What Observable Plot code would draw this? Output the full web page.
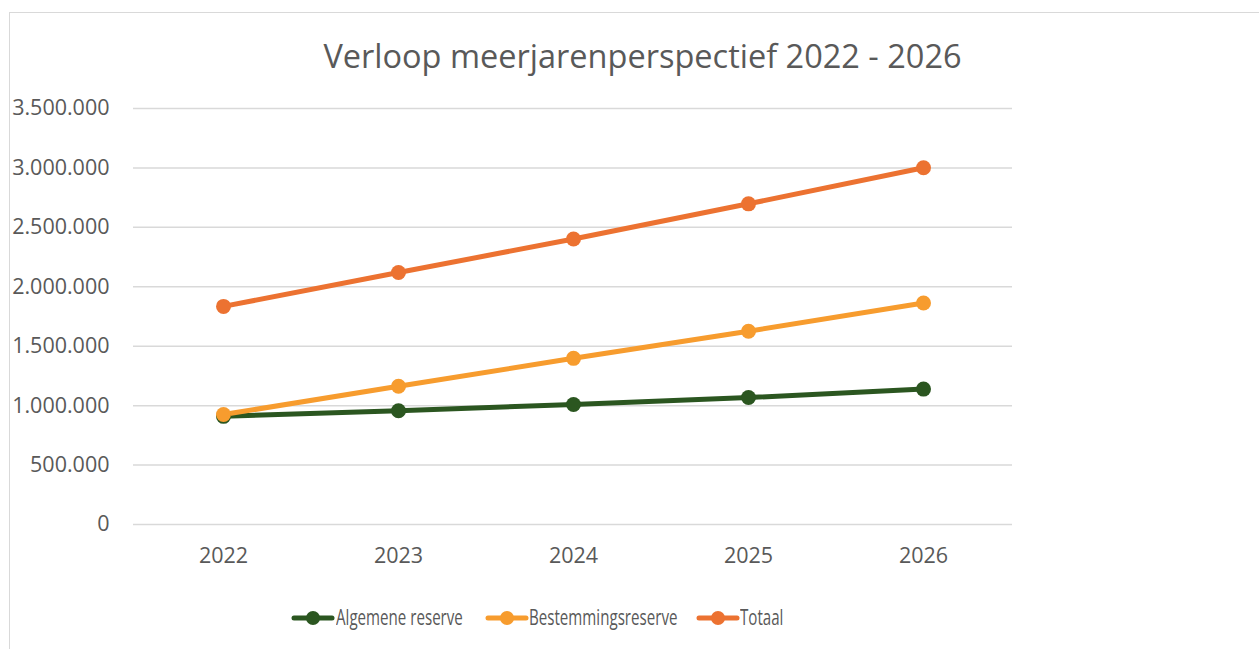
<!DOCTYPE html>
<html>
<head>
<meta charset="utf-8">
<script src="https://cdn.jsdelivr.net/npm/d3@7"></script>
<script src="https://cdn.jsdelivr.net/npm/@observablehq/plot@0.6"></script>
<style>
  html, body { margin: 0; padding: 0; background: #fff; }
  body { width: 1259px; height: 649px; overflow: hidden; position: relative; font-family: "Open Sans", sans-serif; color: #595959; }
  #frame { position: absolute; left: 9px; top: 12px; width: 1300px; height: 700px; border: 1px solid #d9d9d9; box-sizing: border-box; }
  #title { position: absolute; left: 0; width: 1285px; top: 33px; text-align: center; font-size: 32.5px; color: #595959; white-space: nowrap; }
  #chart { position: absolute; left: 0; top: 80px; }
  #legend { position: absolute; left: 0; top: 603px; height: 28px; width: 1259px; }
  .sw { position: absolute; top: 6px; }
  .lab { position: absolute; top: 0; height: 28px; line-height: 28px; font-size: 21px; color: #595959; white-space: nowrap; transform: scaleX(0.72); transform-origin: 0 50%; }
</style>
</head>
<body>
<div id="frame"></div>
<div id="title">Verloop meerjarenperspectief 2022 - 2026</div>
<div id="chart"></div>
<div id="legend"></div>
<script>
const years = ["2022", "2023", "2024", "2025", "2026"];
const seriesNames = ["Algemene reserve", "Bestemmingsreserve", "Totaal"];
const algemene = [910000, 957000, 1010000, 1068000, 1139000];
const bestemming = [925000, 1163000, 1398000, 1626000, 1863000];
const totaal = [1835000, 2120000, 2402000, 2698000, 3002000];
const yTicks = [0, 500000, 1000000, 1500000, 2000000, 2500000, 3000000, 3500000];
const colors = ["#2B5620", "#F79C2E", "#EC7231"];

const valuesBySeries = [algemene, bestemming, totaal];
const data = [];
seriesNames.forEach((s, i) => years.forEach((y, j) => data.push({series: s, year: y, value: valuesBySeries[i][j]})));

const nl = d3.formatLocale({decimal: ",", thousands: ".", grouping: [3], currency: ["€", ""]});
const fmt = nl.format(",d");

const W = 1259, H = 480;
const chart = Plot.plot({
  width: W,
  height: H,
  marginTop: 28,
  marginBottom: 36,
  marginLeft: 133,
  marginRight: 247,
  style: {fontFamily: "Open Sans, sans-serif", fontSize: "21.5px", color: "#595959", background: "transparent", overflow: "visible"},
  x: {type: "point", domain: years, padding: 0.5, label: null},
  y: {domain: [0, 3500000], ticks: yTicks, label: null, tickFormat: fmt},
  color: {domain: seriesNames, range: colors},
  marks: [
    Plot.ruleY(yTicks, {stroke: "#d9d9d9", strokeWidth: 1.5}),
    Plot.axisY({ticks: yTicks, tickSize: 0, tickPadding: 24, tickFormat: fmt, label: null, fill: "#595959"}),
    Plot.axisX({tickSize: 0, tickPadding: 23, label: null, fill: "#595959"}),
    Plot.line(data, {x: "year", y: "value", z: "series", stroke: "series", strokeWidth: 5, strokeLinecap: "round", strokeLinejoin: "round"}),
    Plot.dot(data, {x: "year", y: "value", fill: "series", r: 7.5, stroke: "none"})
  ]
});
document.getElementById("chart").appendChild(chart);

const legend = document.getElementById("legend");
const swLefts = [291, 485, 696];
const labLefts = [336, 529, 740];
seriesNames.forEach((s, i) => {
  const sw = document.createElement("div");
  sw.className = "sw";
  sw.style.left = swLefts[i] + "px";
  sw.innerHTML = `<svg width="44" height="16"><line x1="3" y1="8" x2="41" y2="8" stroke="${colors[i]}" stroke-width="5" stroke-linecap="round"/><circle cx="22" cy="8" r="7" fill="${colors[i]}"/></svg>`;
  legend.appendChild(sw);
  const lab = document.createElement("div");
  lab.className = "lab";
  lab.style.left = labLefts[i] + "px";
  lab.textContent = s;
  legend.appendChild(lab);
});
</script>
</body>
</html>
